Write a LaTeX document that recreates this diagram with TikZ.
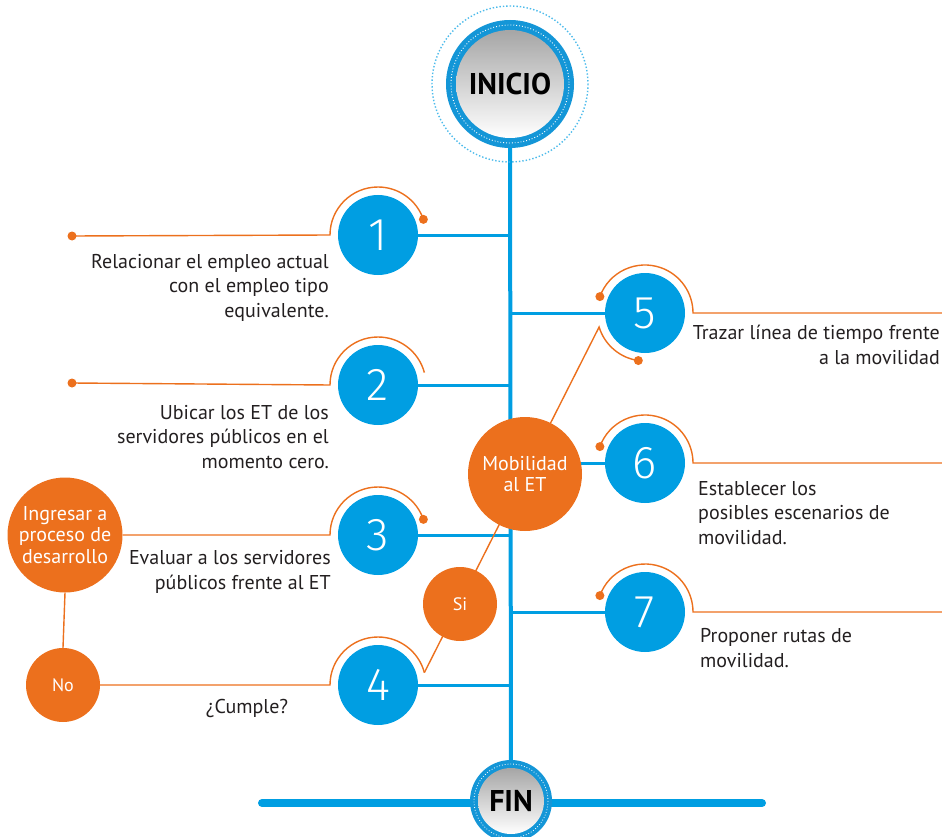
\documentclass[tikz,border=0pt]{standalone}
\usepackage{fontspec}
\setmainfont{PT Sans}
\newfontfamily\numfont{Fira Sans Light}
\usetikzlibrary{calc}
\definecolor{myblue}{RGB}{0,158,226}
\definecolor{ringblue}{RGB}{20,150,215}
\definecolor{myorange}{RGB}{236,112,29}
\definecolor{txt}{RGB}{35,31,32}
\pgfdeclarelayer{bg}
\pgfsetlayers{bg,main}

\begin{document}
\begin{tikzpicture}[x=1pt,y=-1pt,
  stepc/.style={circle,fill=myblue,minimum size=80pt,inner sep=0pt,text=white,
                font=\numfont\fontsize{46}{46}\selectfont},
  ocirc/.style={circle,fill=myorange,inner sep=0pt,text=white,align=center,
                font=\fontsize{20}{21.5}\selectfont},
  desc/.style={inner sep=0pt,text=txt,font=\fontsize{20}{24.5}\selectfont},
  bline/.style={myblue,line width=3pt},
  oline/.style={myorange,line width=1.4pt},
  endc/.style={circle,inner sep=0pt,top color=black!35,bottom color=white,
               font=\bfseries\fontsize{30}{30}\selectfont,text=black}
]
\useasboundingbox (0,0) rectangle (942,837);

% start and end badges
\draw[myblue!70,dotted,line width=1.4pt] (510,84) circle (78);
\fill[ringblue] (510,84) circle (64);
\draw[white,dotted,line width=0.9pt] (510,84) circle (59);
\node[endc,minimum size=108pt] (ini) at (510,84) {INICIO};

\fill[ringblue] (511,801) circle (41);
\draw[white,dotted,line width=0.8pt] (511,801) circle (37);
\node[endc,minimum size=66pt] (fin) at (511,801) {FIN};

% step circles
\node[stepc] (s1) at (378,235) {1};
\node[stepc] (s2) at (378,385) {2};
\node[stepc] (s3) at (378,535) {3};
\node[stepc] (s4) at (378,685) {4};
\node[stepc] (s5) at (645,313) {5};
\node[stepc] (s6) at (645,463) {6};
\node[stepc] (s7) at (645,612) {7};

% orange decision circles
\node[ocirc,minimum size=114pt] (mob) at (525,474) {Mobilidad\\al ET};
\node[ocirc,minimum size=74pt,font=\fontsize{18}{18}\selectfont] (si) at (460,604) {Si};
\node[ocirc,minimum size=115pt] (ing) at (65,535) {Ingresar a\\proceso de\\desarrollo};
\node[ocirc,minimum size=74pt,font=\fontsize{18}{18}\selectfont] (no) at (63,685) {No};

% free ends of the orange leader lines
\coordinate (d1) at (72,236);
\coordinate (d2) at (72,383);
\coordinate (r5) at (945,313);
\coordinate (r6) at (945,463);
\coordinate (r7) at (945,612);

\begin{pgfonlayer}{bg}
  % spine and bottom bar
  \draw[myblue,line width=4pt] (ini.south) -- (fin.north);
  \coordinate (barL) at (262,803);
  \coordinate (barR) at (762,803);
  \draw[myblue,line width=8pt,line cap=round] (barL) -- (barR);

  % blue branches
  \foreach \s in {s1,s2,s3,s4}
    \draw[bline] (\s.east) -- (\s.east -| ini.south);
  \foreach \s in {s5,s6,s7}
    \draw[bline] (\s.west -| ini.south) -- (\s.west);

  % orange leaders, left side
  \draw[oline] (d1) -- ($(s1)+(180:48)$) arc[start angle=180,end angle=341,radius=48] coordinate (e1);
  \draw[oline] (d2) -- ($(s2)+(180:48)$) arc[start angle=180,end angle=345,radius=48];
  \draw[oline] (ing.east) -- ($(s3)+(180:48)$) arc[start angle=180,end angle=341,radius=48] coordinate (e3);
  \draw[oline] (no.east) -- ($(s4)+(180:48)$) arc[start angle=180,end angle=345,radius=48] coordinate (e4);
  \draw[oline] (ing.south) -- (no.north);

  % diagonal through the decisions up to step 5
  \draw[oline] (e4) -- ($(s5)+(163:48)$) arc[start angle=163,end angle=98,radius=48] coordinate (e5b);

  % orange leaders, right side
  \draw[oline] ($(s5)+(200:48)$) coordinate (b5) arc[start angle=200,end angle=360,radius=48] -- (r5);
  \draw[oline] ($(s6)+(200:48)$) coordinate (b6) arc[start angle=200,end angle=360,radius=48] -- (r6);
  \draw[oline] ($(s7)+(200:48)$) coordinate (b7) arc[start angle=200,end angle=360,radius=48] -- (r7);
\end{pgfonlayer}

% leader end dots
\foreach \p in {d1,d2,e1,e3,e5b,b5,b6,b7}
  \fill[myorange] (\p) circle (4.5);

% descriptions (anchored at the baseline of their last line)
\node[desc,anchor=base east,align=right] (t1) at (329,317)
  {Relacionar el empleo actual\\con el empleo tipo\\equivalente.};
\node[desc,anchor=base east,align=right] (t2) at (329,468)
  {Ubicar los ET de los\\servidores públicos en el\\momento cero.};
\node[desc,anchor=base east,align=right] (t3) at (331,589)
  {Evaluar a los servidores\\públicos frente al ET};
\node[desc,anchor=base] (t4) at (247,713) {¿Cumple?};
\node[desc,anchor=base east,align=right] (t5) at (940,364)
  {Trazar línea de tiempo frente\\a la movilidad};
\node[desc,anchor=base west,align=left] (t6) at (698,544)
  {Establecer los\\posibles escenarios de\\movilidad.};
\node[desc,anchor=base west,align=left] (t7) at (700,667)
  {Proponer rutas de\\movilidad.};
\end{tikzpicture}
\end{document}
